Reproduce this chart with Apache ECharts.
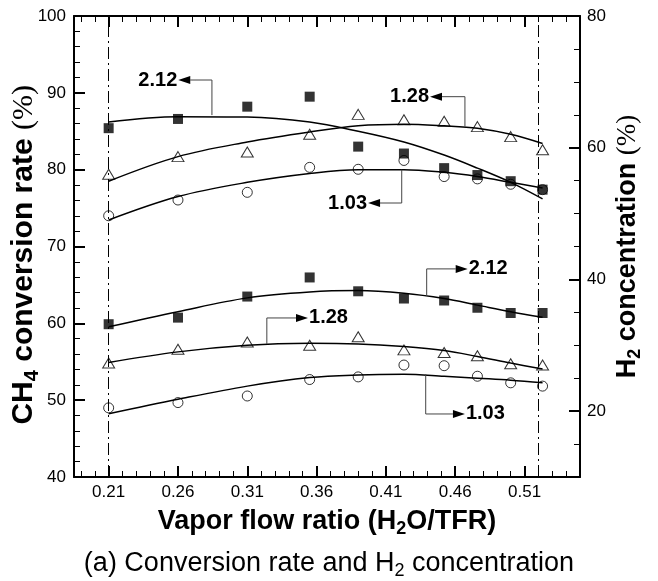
<!DOCTYPE html>
<html><head><meta charset="utf-8">
<script src="https://cdn.jsdelivr.net/npm/echarts@6/dist/echarts.min.js"></script>
<style>html,body{margin:0;padding:0;background:#fff}#c{width:658px;height:581px}</style>
</head><body><div id="c"></div>
<script>
// ---- data ----
const xVals = [0.21, 0.26, 0.31, 0.355, 0.39, 0.423, 0.452, 0.476, 0.50, 0.523];
// CH4 conversion rate (%), left axis
const conv212 = [85.4, 86.6, 88.2, 89.5, 83.0, 82.1, 80.2, 79.3, 78.5, 77.4];
const conv128 = [79.4, 81.7, 82.3, 84.6, 87.2, 86.5, 86.3, 85.6, 84.3, 82.6];
const conv103 = [74.0, 76.05, 77.05, 80.3, 80.05, 81.2, 79.1, 78.8, 78.1, 77.4];
const conv212Fit = [86.2, 86.9, 86.85, 86.2, 85.0, 83.6, 81.9, 80.2, 78.35, 76.2];
const conv128Fit = [78.5, 81.7, 83.6, 84.9, 85.7, 85.9, 85.7, 85.4, 84.6, 83.4];
const conv103Fit = [73.45, 76.5, 78.35, 79.5, 80.0, 80.0, 79.65, 79.1, 78.35, 77.6];
// H2 concentration (%), right axis
const h2212 = [33.2, 34.2, 37.4, 40.3, 38.2, 37.1, 36.8, 35.7, 34.9, 34.9];
const h2128 = [27.3, 29.4, 30.5, 30.0, 31.3, 29.3, 28.9, 28.4, 27.2, 27.0];
const h2103 = [20.5, 21.3, 22.3, 24.8, 25.2, 27.0, 26.9, 25.3, 24.3, 23.8];
const h2212Fit = [32.8, 35.1, 37.2, 38.1, 38.3, 37.9, 37.1, 36.1, 35.1, 34.25];
const h2128Fit = [27.4, 29.0, 30.0, 30.3, 30.2, 29.8, 29.2, 28.3, 27.3, 26.4];
const h2103Fit = [19.6, 21.8, 23.8, 25.1, 25.5, 25.6, 25.3, 25.0, 24.7, 24.3];
// ticks
const xMajorTicks = [0.21, 0.26, 0.31, 0.36, 0.41, 0.46, 0.51];
const xMinorTicks = [0.19, 0.20, 0.22, 0.23, 0.24, 0.25, 0.27, 0.28, 0.29, 0.30, 0.32, 0.33, 0.34, 0.35,
  0.37, 0.38, 0.39, 0.40, 0.42, 0.43, 0.44, 0.45, 0.47, 0.48, 0.49, 0.50, 0.52, 0.53, 0.54];
const rightMajorTicks = [20, 40, 60, 80];
const rightMinorTicks = [15, 25, 30, 35, 45, 50, 55, 65, 70, 75];
const refLinesX = [0.21, 0.523];
// annotations: label, y axis index, leader x, y on curve, y of elbow, arrow tip x, direction
const annotations = [
  { text: '2.12', axis: 0, x: 0.2845, yCurve: 87.1, yElbow: 91.67, xTip: 0.2602, dir: -1 },
  { text: '1.28', axis: 0, x: 0.467, yCurve: 85.6, yElbow: 89.5, xTip: 0.4418, dir: -1 },
  { text: '1.03', axis: 0, x: 0.4214, yCurve: 80.0, yElbow: 75.66, xTip: 0.3971, dir: -1 },
  { text: '2.12', axis: 1, x: 0.4394, yCurve: 37.5, yElbow: 41.6, xTip: 0.469, dir: 1 },
  { text: '1.28', axis: 1, x: 0.3241, yCurve: 30.2, yElbow: 34.15, xTip: 0.3538, dir: 1 },
  { text: '1.03', axis: 1, x: 0.4387, yCurve: 25.6, yElbow: 19.57, xTip: 0.467, dir: 1 }
];

const FONT = '"Liberation Sans", Arial, sans-serif';
const pair = (ys) => xVals.map((x, i) => [x, ys[i]]);
const axisLineStyle = { color: '#000', width: 2 };

function titleRich(fs, lh) {
  return {
    b: { fontSize: fs, fontWeight: 'bold', fontFamily: FONT, color: '#000', lineHeight: lh },
    s: { fontSize: Math.round(fs * 0.65), fontWeight: 'bold', fontFamily: FONT, color: '#000', lineHeight: Math.round(fs * 0.65), verticalAlign: 'bottom' },
    p: { fontSize: fs, fontFamily: '"Liberation Serif", serif', color: '#000', lineHeight: lh }
  };
}

function scatter(name, ys, yIdx, sym) {
  const filled = sym === 'rect';
  return {
    type: 'scatter', name, xAxisIndex: 0, yAxisIndex: yIdx, data: pair(ys),
    symbol: sym, symbolSize: sym === 'triangle' ? [12, 10] : 10,
    itemStyle: filled ? { color: '#000' } : { color: '#fff', borderColor: '#000', borderWidth: 1 },
    z: 3, silent: true
  };
}
function fit(name, ys, yIdx) {
  return {
    type: 'line', name, xAxisIndex: 0, yAxisIndex: yIdx, data: pair(ys), smooth: 0.35,
    showSymbol: false, symbol: 'none', lineStyle: { color: '#000', width: 1.5 }, z: 4, silent: true
  };
}

const chart = echarts.init(document.getElementById('c'), null, { renderer: 'canvas' });
const xCommon = { type: 'value', min: 0.185, max: 0.55, splitLine: { show: false } };

chart.setOption({
  animation: false,
  backgroundColor: '#fff',
  textStyle: { fontFamily: FONT },
  title: {
    text: '(a) Conversion rate and H{s|2} concentration',
    left: 'center', top: 547, padding: 0,
    textStyle: {
      fontSize: 27, fontWeight: 'normal', fontFamily: FONT, color: '#000', lineHeight: 33,
      rich: { s: { fontSize: 18, fontFamily: FONT, color: '#000', lineHeight: 18, verticalAlign: 'bottom' } }
    }
  },
  grid: { left: 74, right: 78, top: 16, bottom: 104, containLabel: false, outerBoundsMode: 'none' },
  xAxis: [
    Object.assign({}, xCommon, {
      position: 'bottom',
      axisLine: { show: true, onZero: false, lineStyle: axisLineStyle },
      axisTick: { show: true, inside: true, length: 11, customValues: xMajorTicks, lineStyle: { color: '#000', width: 2 } },
      axisLabel: { customValues: xMajorTicks, formatter: (v) => v.toFixed(2), color: '#000', fontSize: 17, fontFamily: FONT, margin: 7 },
      name: '{b|Vapor flow ratio (H}{s|2}{b|O/TFR)}', nameLocation: 'middle', nameGap: 29, nameMoveOverlap: false,
      nameTextStyle: { rich: titleRich(27, 32) }
    }),
    Object.assign({}, xCommon, {
      position: 'bottom',
      axisLine: { show: false, onZero: false },
      axisTick: { show: true, inside: true, length: 6, customValues: xMinorTicks, lineStyle: { color: '#000', width: 1 } },
      axisLabel: { show: false }
    }),
    Object.assign({}, xCommon, {
      position: 'top',
      axisLine: { show: true, onZero: false, lineStyle: axisLineStyle },
      axisTick: { show: true, inside: true, length: 11, customValues: xMajorTicks, lineStyle: { color: '#000', width: 2 } },
      axisLabel: { show: false }
    }),
    Object.assign({}, xCommon, {
      position: 'top',
      axisLine: { show: false, onZero: false },
      axisTick: { show: true, inside: true, length: 6, customValues: xMinorTicks, lineStyle: { color: '#000', width: 1 } },
      axisLabel: { show: false }
    })
  ],
  yAxis: [
    {
      type: 'value', position: 'left', min: 40, max: 100, interval: 10,
      axisLine: { show: true, onZero: false, lineStyle: axisLineStyle },
      axisTick: { show: true, inside: true, length: 11, lineStyle: { color: '#000', width: 2 } },
      minorTick: { show: true, splitNumber: 5, length: 6, lineStyle: { color: '#000', width: 1 } },
      axisLabel: { color: '#000', fontSize: 17, fontFamily: FONT, margin: 8 },
      splitLine: { show: false }, minorSplitLine: { show: false },
      name: '{b|CH}{s|4}{b| conversion rate }{p|(%)}{b|  }', nameLocation: 'middle', nameRotate: 90, nameGap: 32, nameMoveOverlap: false,
      nameTextStyle: { rich: titleRich(30, 36) }
    },
    {
      type: 'value', position: 'right', min: 10, max: 80,
      axisLine: { show: true, onZero: false, lineStyle: axisLineStyle },
      axisTick: { show: true, inside: true, length: 11, customValues: rightMajorTicks, lineStyle: { color: '#000', width: 2 } },
      axisLabel: { customValues: rightMajorTicks, color: '#000', fontSize: 17, fontFamily: FONT, margin: 7 },
      splitLine: { show: false },
      name: '{b|H}{s|2}{b| concentration }{p|(%)}', nameLocation: 'middle', nameRotate: 90, nameGap: 31, nameMoveOverlap: false,
      nameTextStyle: { rich: titleRich(27, 33) }
    },
    {
      type: 'value', position: 'right', min: 10, max: 80,
      axisLine: { show: false, onZero: false },
      axisTick: { show: true, inside: true, length: 6, customValues: rightMinorTicks, lineStyle: { color: '#000', width: 1 } },
      axisLabel: { show: false }, splitLine: { show: false }
    }
  ],
  series: [
    Object.assign(scatter('conv 1.03', conv103, 0, 'circle'), {
      markLine: {
        silent: true, symbol: 'none', label: { show: false },
        lineStyle: { color: '#000', width: 1, type: [12, 4, 2, 4] },
        data: refLinesX.map(v => ({ xAxis: v }))
      }
    }),
    scatter('conv 1.28', conv128, 0, 'triangle'),
    scatter('conv 2.12', conv212, 0, 'rect'),
    scatter('H2 1.03', h2103, 1, 'circle'),
    scatter('H2 1.28', h2128, 1, 'triangle'),
    scatter('H2 2.12', h2212, 1, 'rect'),
    fit('conv 1.03 fit', conv103Fit, 0),
    fit('conv 1.28 fit', conv128Fit, 0),
    fit('conv 2.12 fit', conv212Fit, 0),
    fit('H2 1.03 fit', h2103Fit, 1),
    fit('H2 1.28 fit', h2128Fit, 1),
    fit('H2 2.12 fit', h2212Fit, 1)
  ]
});

// leader lines with arrows and labels, positioned from data coordinates
const g = [];
annotations.forEach((a) => {
  const f = { xAxisIndex: 0, yAxisIndex: a.axis };
  const pc = chart.convertToPixel(f, [a.x, a.yCurve]);
  const pe = chart.convertToPixel(f, [a.x, a.yElbow]);
  const pt = chart.convertToPixel(f, [a.xTip, a.yElbow]);
  const base = pt[0] - a.dir * 12;
  g.push({ type: 'polyline', silent: true, z: 10, shape: { points: [pc, pe, [base, pe[1]]] }, style: { stroke: '#444', lineWidth: 1, fill: null } });
  g.push({ type: 'polygon', silent: true, z: 10, shape: { points: [[pt[0], pt[1]], [base, pt[1] - 4], [base, pt[1] + 4]] }, style: { fill: '#000' } });
  g.push({ type: 'text', silent: true, z: 10, x: pt[0] + a.dir * 1, y: pt[1],
    style: { text: a.text, font: 'bold 20px ' + FONT, fill: '#000', align: a.dir < 0 ? 'right' : 'left', verticalAlign: 'middle' } });
});
chart.setOption({ graphic: g });
</script>
</body></html>
